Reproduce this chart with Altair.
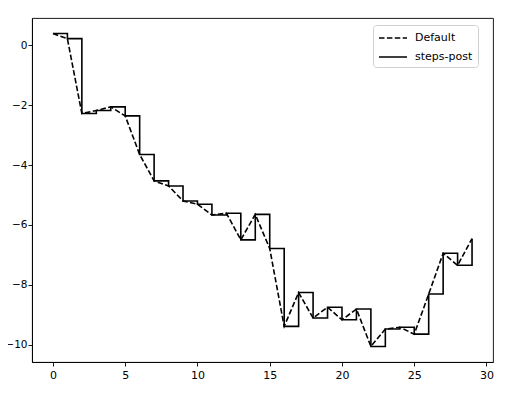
import altair as alt
import pandas as pd

x_vals = list(range(30))
y_vals = [0.39, 0.22, -2.28, -2.18, -2.06, -2.36, -3.65, -4.53, -4.70, -5.20,
          -5.31, -5.67, -5.61, -6.50, -5.65, -6.79, -9.39, -8.26, -9.11, -8.75,
          -9.17, -8.81, -10.06, -9.48, -9.42, -9.65, -8.31, -6.95, -7.35, -6.46]
series_names = ["Default", "steps-post"]
x_ticks = [0, 5, 10, 15, 20, 25, 30]
y_ticks = [-10, -8, -6, -4, -2, 0]

rows = []
for s in series_names:
    for x, y in zip(x_vals, y_vals):
        rows.append({"x": x, "y": y, "series": s})
df = pd.DataFrame(rows)

xs = alt.Scale(domain=[-1.45, 30.45], nice=False, zero=False)
ys = alt.Scale(domain=[-10.58, 0.91], nice=False, zero=False)
dash = alt.Scale(domain=series_names, range=[[5.5, 2.4], [1, 0]])

common_axis = dict(title=None, grid=False, domainColor="black",
                   tickColor="black", labelColor="black", tickSize=4,
                   labelFont="DejaVu Sans",
                   domainWidth=0.9, tickWidth=0.9)

xaxis = alt.Axis(values=x_ticks, labelPadding=3, labelFontSize=11, **common_axis)
yaxis = alt.Axis(values=y_ticks, labelPadding=1, labelFontSize=10.5, **common_axis)

legend = alt.Legend(title=None, orient="none", legendX=341, legendY=7,
                    symbolType="M-2,0L2,0", symbolSize=196, symbolStrokeWidth=1.6,
                    symbolOffset=7,
                    symbolStrokeColor="black", labelFont="DejaVu Sans",
                    labelFontSize=11, labelColor="black", strokeColor="#d0d0d0",
                    fillColor="white", cornerRadius=3, padding=5, rowPadding=6,
                    labelOffset=14)

base = alt.Chart(df).encode(
    x=alt.X("x:Q", scale=xs, axis=xaxis),
    y=alt.Y("y:Q", scale=ys, axis=yaxis),
    strokeDash=alt.StrokeDash("series:N", scale=dash, legend=legend),
)

default = base.transform_filter(alt.datum.series == "Default").mark_line(
    color="black", strokeWidth=1.6)
steps = base.transform_filter(alt.datum.series == "steps-post").mark_line(
    color="black", strokeWidth=1.6, interpolate="step-after")

chart = alt.layer(default, steps).properties(
    width=461, height=344,
    padding={"left": 24, "top": 10, "right": 4, "bottom": 23},
    autosize=alt.AutoSizeParams(type="none"),
).configure_view(stroke="black", strokeWidth=0.9)

chart.save("out.html", embed_options={"renderer": "svg", "actions": False})
